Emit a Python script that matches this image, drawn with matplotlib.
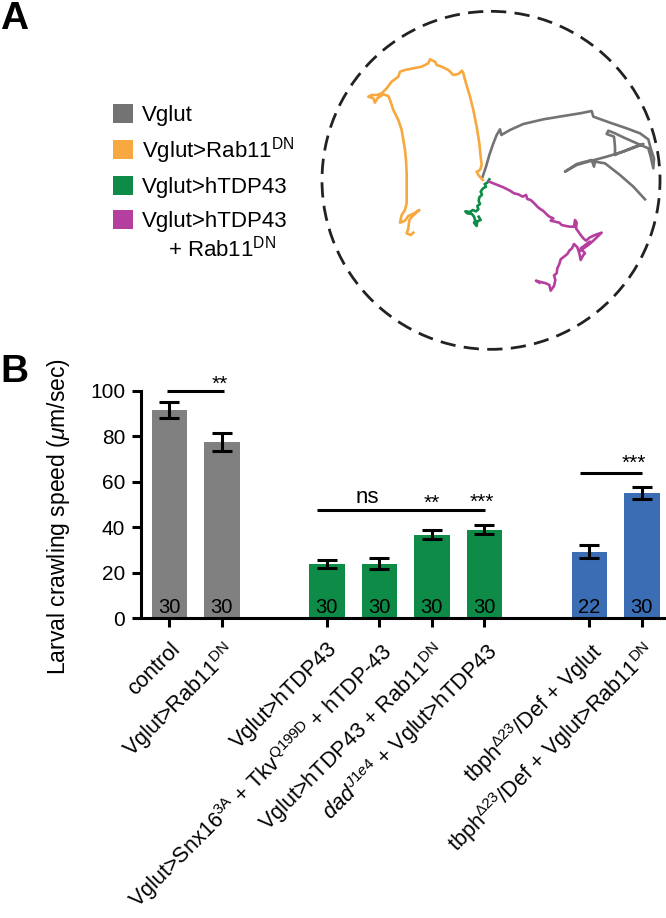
""" larval crawling figure """
import numpy as np
import matplotlib
matplotlib.use('Agg')
import matplotlib.pyplot as plt
from matplotlib.patches import Circle, Rectangle
from matplotlib.transforms import ScaledTranslation

plt.rcParams['font.family'] = ['Liberation Sans', 'DejaVu Sans']
plt.rcParams['mathtext.fontset'] = 'custom'
plt.rcParams['mathtext.rm'] = 'Liberation Sans'
plt.rcParams['mathtext.it'] = 'Liberation Sans:italic'
plt.rcParams['mathtext.bf'] = 'Liberation Sans:bold'

# ---- panel A: crawling tracks (arena units) ----
track_vglut = [(578, 530), (588, 500), (598, 465), (610, 430), (620, 405), (630, 388), (634, 405),
               (660, 390), (700, 372), (760, 358), (820, 348), (870, 340), (905, 333), (910, 350),
               (960, 368), (1010, 385), (1050, 400), (1075, 418), (1082, 445), (1092, 475),
               (1090, 505), (1082, 470), (1075, 445), (1045, 432), (1000, 412), (975, 400),
               (955, 392), (950, 402), (972, 410), (975, 440), (975, 465), (990, 458), (1035, 440),
               (1060, 432), (1040, 440), (1000, 455), (950, 470), (905, 482), (860, 495), (825, 515),
               (860, 492), (905, 480), (912, 500), (915, 485), (945, 490), (990, 525), (1030, 560),
               (1065, 598)]
track_rab11 = [(578, 540), (565, 525), (560, 515), (570, 510), (575, 495), (572, 470), (568, 430),
               (560, 380), (550, 330), (540, 290), (528, 250), (520, 220), (516, 212), (505, 222),
               (490, 225), (475, 210), (455, 200), (440, 195), (435, 185), (420, 178), (415, 190),
               (395, 200), (370, 205), (345, 210), (330, 215), (325, 230), (305, 245), (290, 265),
               (275, 280), (262, 285), (245, 285), (235, 290), (250, 295), (255, 308), (262, 295),
               (280, 283), (295, 288), (300, 300), (310, 330), (325, 360), (335, 390), (340, 420),
               (345, 450), (348, 480), (350, 520), (350, 580), (350, 610), (345, 630), (335, 645),
               (330, 668), (345, 662), (355, 648), (372, 640), (388, 630), (368, 648), (358, 660),
               (355, 685), (350, 700), (362, 705), (370, 698)]
track_tdp = [(598, 538), (592, 548), (584, 552), (588, 560), (578, 566), (572, 575), (576, 584),
             (568, 592), (566, 602), (570, 612), (562, 618), (565, 628), (558, 634), (548, 630),
             (540, 636), (526, 634), (532, 640), (546, 642), (552, 650), (556, 662), (552, 668),
             (560, 678), (562, 664), (572, 660), (566, 650)]
track_tdp_rab11 = [(598, 545), (610, 550), (625, 556), (640, 562), (652, 568), (660, 572), (672, 580),
                   (685, 583), (698, 590), (708, 585), (712, 597), (722, 600), (735, 612), (742, 620),
                   (752, 628), (760, 633), (772, 645), (778, 650), (790, 655), (782, 662), (795, 665),
                   (808, 668), (815, 675), (828, 678), (840, 680), (852, 680), (855, 660), (860, 668),
                   (858, 685), (865, 695), (872, 705), (880, 715), (888, 722), (900, 712), (915, 705),
                   (935, 698), (910, 722), (895, 735), (870, 752), (900, 725), (872, 745), (885, 760),
                   (880, 765), (872, 780), (868, 760), (862, 742), (852, 732), (846, 745), (838, 752),
                   (832, 762), (822, 770), (812, 778), (808, 792), (802, 805), (800, 820), (792, 826),
                   (796, 840), (792, 858), (782, 872), (778, 855), (768, 850), (752, 846), (738, 842),
                   (748, 848)]

legend_labels = ['Vglut', r'Vglut>Rab11$^{\mathrm{DN}}$', 'Vglut>hTDP43', 'Vglut>hTDP43']
legend_extra = r'+ Rab11$^{\mathrm{DN}}$'
legend_colors = ['#737373', '#F7A83E', '#0E8C47', '#B53F9E']

# ---- panel B: crawling speed ----
genotypes = ['control',
             r'Vglut>Rab11$^{\mathrm{DN}}$',
             'Vglut>hTDP43',
             r'Vglut>Snx16$^{\mathrm{3A}}$ + Tkv$^{\mathrm{Q199D}}$ + hTDP-43',
             r'Vglut>hTDP43 + Rab11$^{\mathrm{DN}}$',
             r'$\mathit{dad}^{\mathit{J1e4}}$ + Vglut>hTDP43',
             r'tbph$^{\mathrm{Δ23}}$/Def + Vglut',
             r'tbph$^{\mathrm{Δ23}}$/Def + Vglut>Rab11$^{\mathrm{DN}}$']
positions = [0, 1, 3, 4, 5, 6, 8, 9]
speed_mean = [91.5, 77.5, 24.0, 24.0, 36.8, 39.0, 29.3, 55.2]
speed_sem = [3.4, 3.8, 1.8, 2.5, 2.0, 1.8, 2.7, 2.7]
n_larvae = [30, 30, 30, 30, 30, 30, 22, 30]
bar_colors = ['#808080', '#808080', '#0E8C47', '#0E8C47', '#0E8C47', '#0E8C47', '#3B6DB4', '#3B6DB4']

# comparison bars: (x start, x end, y) and star labels: (x, y, text)
sig_lines = [(-0.05, 1.04, 100.0), (2.82, 6.01, 47.6), (7.82, 9.0, 64.0)]
sig_texts = [(0.96, 100.6, '**'), (3.78, 50.5, 'ns'), (5.0, 48.2, '**'), (5.95, 48.5, '***'),
             (8.85, 65.7, '***')]

W, H = 666, 918
fig = plt.figure(figsize=(W / 100, H / 100), dpi=100)

# background axes in pixel units for letters and legend
bg = fig.add_axes([0, 0, 1, 1])
bg.set_xlim(0, W)
bg.set_ylim(H, 0)
bg.axis('off')
bg.text(0, 1, 'A', fontsize=28, fontweight='bold', ha='left', va='top')
bg.text(0, 354, 'B', fontsize=28, fontweight='bold', ha='left', va='top')
legend_y = [113, 149, 185, 219.5]
for yy, lab, col in zip(legend_y, legend_labels, legend_colors):
    bg.add_patch(Rectangle((113, yy - 9.5), 19.5, 19, color=col, lw=0))
    bg.text(142, yy + 8, lab, fontsize=16, ha='left', va='baseline')
bg.text(168, 257, legend_extra, fontsize=16, ha='left', va='baseline')

# arena
ax_a = fig.add_axes([290 / W, 1 - 360 / H, 376 / W, 360 / H])
ax_a.set_xlim(0, 1128)
ax_a.set_ylim(1080, 0)
ax_a.axis('off')
ax_a.add_patch(Circle((603, 541), 507, fill=False, ec='#222222', lw=2, ls=(0, (5.5, 3))))
for trk, col in zip([track_vglut, track_rab11, track_tdp, track_tdp_rab11], legend_colors):
    arr = np.array(trk)
    ax_a.plot(arr[:, 0], arr[:, 1], color=col, lw=1.9, solid_joinstyle='round')

# bar chart
ax = fig.add_axes([141 / W, 1 - 618.3 / H, 525 / W, (618.3 - 390.7) / H])
ax.bar(positions, speed_mean, width=0.68, color=bar_colors, zorder=2)
ax.errorbar(positions, speed_mean, yerr=speed_sem, fmt='none', ecolor='black',
            elinewidth=2.2, capsize=7, capthick=2.2, zorder=3)
for x, n in zip(positions, n_larvae):
    ax.text(x, 2.5, str(n), ha='center', va='baseline', fontsize=14.5, zorder=4)
for x0, x1, yy in sig_lines:
    ax.plot([x0, x1], [yy, yy], color='black', lw=2.2, clip_on=False, solid_capstyle='butt')
for x, yy, t in sig_texts:
    ax.text(x, yy, t, ha='center', va='baseline', fontsize=16 if t == 'ns' else 15)

ax.set_xlim(-0.54, 9.46)
ax.set_ylim(0, 100)
ax.set_yticks(range(0, 101, 20))
ax.set_xticks(positions)
ax.set_xticklabels(genotypes, rotation=45, ha='right', va='top', rotation_mode='anchor',
                   fontsize=15.6)
shift = ScaledTranslation(0.10, 0, fig.dpi_scale_trans)
for lab in ax.get_xticklabels():
    lab.set_transform(lab.get_transform() + shift)
ax.tick_params(axis='both', width=2.2, length=6.5, color='black')
ax.tick_params(axis='y', pad=5, labelsize=15)
ax.tick_params(axis='x', pad=8)
for s in ['top', 'right']:
    ax.spines[s].set_visible(False)
for s in ['left', 'bottom']:
    ax.spines[s].set_linewidth(2.2)
ax.set_ylabel(r'Larval crawling speed ($\mathit{μ}$m/sec)', fontsize=16.5)
ax.yaxis.set_label_coords(-0.131, 0.449)

fig.savefig('out.png', dpi=100)
